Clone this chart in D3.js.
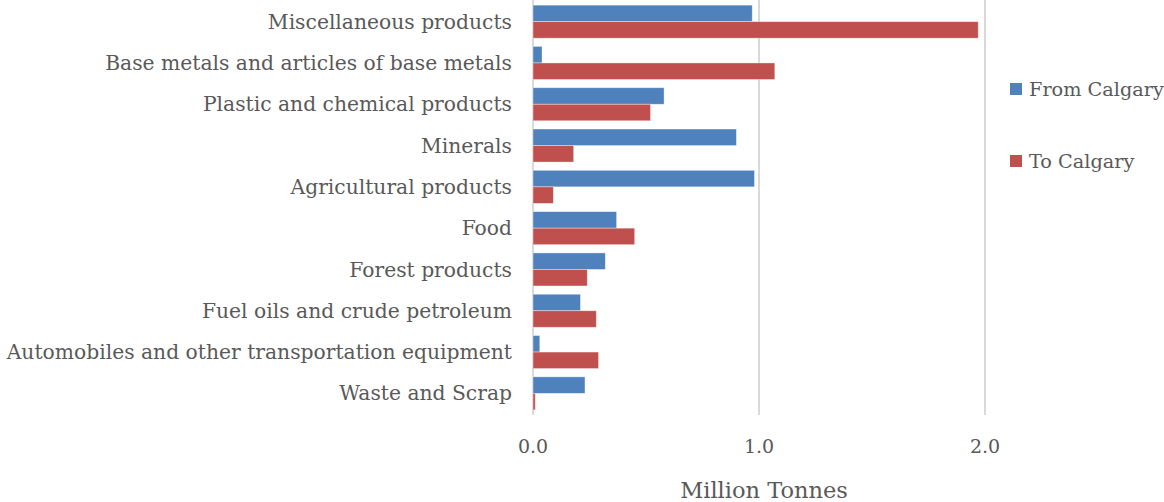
<!DOCTYPE html>
<html>
<head>
<meta charset="utf-8">
<script src="https://cdn.jsdelivr.net/npm/d3@7.9.0/dist/d3.min.js"></script>
<style>
  body { margin: 0; background: #fff; }
  text { font-family: "DejaVu Serif", serif; fill: #595959; }
</style>
</head>
<body>
<svg id="chart" width="1164" height="502"></svg>
<script>
const categories = [
  'Miscellaneous products',
  'Base metals and articles of base metals',
  'Plastic and chemical products',
  'Minerals',
  'Agricultural products',
  'Food',
  'Forest products',
  'Fuel oils and crude petroleum',
  'Automobiles and other transportation equipment',
  'Waste and Scrap'
];
const fromCalgary = [0.97, 0.04, 0.58, 0.90, 0.98, 0.37, 0.32, 0.21, 0.03, 0.23];
const toCalgary = [1.97, 1.07, 0.52, 0.18, 0.09, 0.45, 0.24, 0.28, 0.29, 0.01];
const seriesNames = ['From Calgary', 'To Calgary'];
const colors = ['#4f81bd', '#c0504d'];
const ticks = [0, 1, 2];

const svg = d3.select('#chart');

const x = d3.scaleLinear().domain([0, 2]).range([533, 985]);
const y = d3.scaleBand().domain(categories).range([1, 414]).paddingInner(0.2).paddingOuter(0.1);
const sub = d3.scaleBand().domain(seriesNames).range([0, y.bandwidth()]);

// gridlines
svg.append('g')
  .selectAll('line')
  .data(ticks)
  .join('line')
  .attr('x1', d => x(d)).attr('x2', d => x(d))
  .attr('y1', 0).attr('y2', 415)
  .attr('stroke', '#d9d9d9')
  .attr('stroke-width', 2);

const rows = categories.map((c, i) => ({ c, vals: [fromCalgary[i], toCalgary[i]] }));

const g = svg.append('g')
  .selectAll('g')
  .data(rows)
  .join('g')
  .attr('transform', d => `translate(0,${y(d.c)})`);

g.selectAll('rect')
  .data(d => d.vals.map((v, k) => ({ v, k })))
  .join('rect')
  .attr('x', x(0))
  .attr('y', d => sub(seriesNames[d.k]))
  .attr('width', d => x(d.v) - x(0))
  .attr('height', sub.bandwidth())
  .attr('fill', d => colors[d.k])
  .attr('stroke', '#fff')
  .attr('stroke-opacity', 0.5)
  .attr('stroke-width', 0.75);

// category labels
svg.append('g')
  .selectAll('text')
  .data(categories)
  .join('text')
  .attr('x', 512)
  .attr('y', d => y(d) + y.bandwidth() / 2)
  .attr('dy', '0.35em')
  .attr('text-anchor', 'end')
  .style('font-size', '20.3px')
  .text(d => d);

// tick labels
svg.append('g')
  .selectAll('text')
  .data(ticks)
  .join('text')
  .attr('x', d => x(d))
  .attr('y', 446)
  .attr('dy', '0.35em')
  .attr('text-anchor', 'middle')
  .style('font-size', '19px')
  .text(d => d3.format('.1f')(d));

svg.append('text')
  .attr('x', 764)
  .attr('y', 490)
  .attr('dy', '0.35em')
  .attr('text-anchor', 'middle')
  .style('font-size', '22.5px')
  .text('Million Tonnes');

// legend
const leg = svg.append('g')
  .selectAll('g')
  .data(seriesNames)
  .join('g')
  .attr('transform', (d, i) => `translate(1010,${89 + i * 72})`);

leg.append('rect')
  .attr('x', 0).attr('y', -6)
  .attr('width', 12).attr('height', 12)
  .attr('fill', (d, i) => colors[i]);

leg.append('text')
  .attr('x', 19)
  .attr('dy', '0.35em')
  .style('font-size', '19.3px')
  .text(d => d);
</script>
</body>
</html>
